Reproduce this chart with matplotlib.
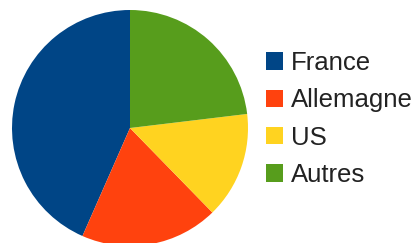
import matplotlib as mpl
import matplotlib.pyplot as plt

mpl.rcParams['font.family'] = 'Liberation Sans'

# données
labels = ['France', 'Allemagne', 'US', 'Autres']
values = [43.4, 18.9, 14.6, 23.1]
colors = ['#004586', '#ff420e', '#ffd320', '#579d1c']

fig = plt.figure(figsize=(4.14, 2.43), dpi=100)
ax = fig.add_axes([0, 0, 1, 1])

# pixel coordinates: centre (130, 128 from top), radius 118
wedges, _ = ax.pie(values, colors=colors, startangle=90, counterclock=True,
                   center=(130, 243 - 128), radius=118,
                   wedgeprops=dict(linewidth=0))
ax.set_xlim(0, 414)
ax.set_ylim(0, 243)
ax.set_aspect('equal')
ax.axis('off')

leg = ax.legend(wedges, labels, loc='upper left', bbox_to_anchor=(266 / 414, 1 - 51 / 243),
                frameon=False, fontsize=18.5, handlelength=0.65, handleheight=0.65,
                handletextpad=0.32, labelspacing=0.52, borderpad=0, borderaxespad=0)
for t in leg.get_texts():
    t.set_color('#222222')

plt.savefig('out.png', dpi=100)
